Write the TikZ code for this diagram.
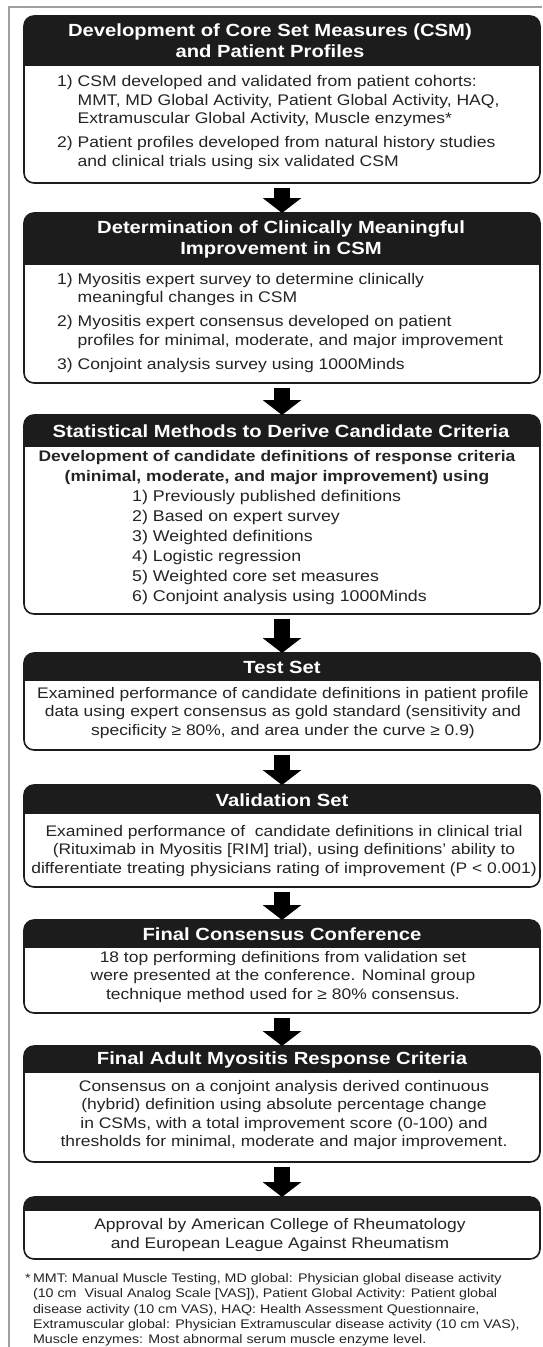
\documentclass[tikz,border=0pt]{standalone}
\usepackage{fontspec}
\setmainfont{Liberation Sans}
\usetikzlibrary{arrows.meta}

\definecolor{hdr}{HTML}{1C1C1C}
\definecolor{ink}{HTML}{242424}
\definecolor{framegray}{HTML}{A0A0A0}

\tikzset{
  stepbox/.style={draw=hdr, line width=1.6pt, rounded corners=10pt,
    minimum width=516pt, inner sep=0pt, outer sep=0pt},
  headtxt/.style={text=white, font=\bfseries\fontsize{17.6}{21}\selectfont,
    xscale=1.15, align=center, inner sep=0pt},
  bodytxt/.style={text=ink, font=\fontsize{15.3}{18.5}\selectfont,
    xscale=1.14, align=center, inner sep=0pt},
  listtxt/.style={text=ink, font=\fontsize{15.4}{18.5}\selectfont,
    xscale=1.14, anchor=west, align=left, inner sep=0pt},
  notetxt/.style={text=ink, font=\fontsize{12.5}{15.2}\selectfont,
    xscale=1.14, anchor=west, inner sep=0pt},
  flowarrow/.style={draw=black, line width=16pt, shorten <=5pt,
    -{Triangle[width=38pt,length=15pt]}},
}

% #1 name, #2 top, #3 bottom of the dark band, #4 bottom
\newcommand\drawstep[4]{%
  \node[stepbox, minimum height={#4-#2}] (#1) at (282,{(#2+#4)/2}) {};
  \begin{scope}
    \clip[rounded corners=10pt] (#1.north west) rectangle (#1.south east);
    \fill[hdr] (20,#2-2) rectangle (544,#3);
  \end{scope}
}

\begin{document}
\begin{tikzpicture}[x=1pt, y=-1pt]
  \useasboundingbox (0,0) rectangle (542,1347);
  \fill[white] (0,0) rectangle (542,1347);

  % outer frame (top and left edges)
  \draw[framegray, line width=1.5pt] (542,7) -- (9,7) -- (9,1347);

  % boxes
  \drawstep{s1}{16}{66}{183}
  \drawstep{s2}{213}{265}{383}
  \drawstep{s3}{415}{447}{614}
  \drawstep{s4}{653}{681}{750}
  \drawstep{s5}{785}{814}{887}
  \drawstep{s6}{920}{948}{1013}
  \drawstep{s7}{1046}{1073}{1162}
  \drawstep{s8}{1197}{1211}{1259}

  % step 1
  \node[headtxt] (h1) at (270,41) {Development of Core Set Measures (CSM)\\and Patient Profiles};
  \node[listtxt] (t1) at (57,123) {\begin{tabular}{@{}l@{\ }l@{}}
    1) & CSM developed and validated from patient cohorts:\\
       & MMT, MD Global Activity, Patient Global Activity, HAQ,\\
       & Extramuscular Global Activity, Muscle enzymes*\\[5.5pt]
    2) & Patient profiles developed from natural history studies\\
       & and clinical trials using six validated CSM
  \end{tabular}};

  % step 2
  \node[headtxt] (h2) at (281,239) {Determination of Clinically Meaningful\\Improvement in CSM};
  \node[listtxt] (t2) at (57,323) {\begin{tabular}{@{}l@{\ }l@{}}
    1) & Myositis expert survey to determine clinically\\
       & meaningful changes in CSM\\[5.5pt]
    2) & Myositis expert consensus developed on patient\\
       & profiles for minimal, moderate, and major improvement\\[5.5pt]
    3) & Conjoint analysis survey using 1000Minds
  \end{tabular}};

  % step 3
  \node[headtxt] (h3) at (281,431) {Statistical Methods to Derive Candidate Criteria};
  \node[bodytxt, font=\bfseries\fontsize{15.3}{20}\selectfont] (t3a) at (277,468)
    {Development of candidate definitions of response criteria\\(minimal, moderate, and major improvement) using};
  \node[listtxt, font=\fontsize{15.6}{20}\selectfont] (t3b) at (132,547)
    {1) Previously published definitions\\2) Based on expert survey\\3) Weighted definitions\\4) Logistic regression\\5) Weighted core set measures\\6) Conjoint analysis using 1000Minds};

  % step 4
  \node[headtxt] (h4) at (282,667) {Test Set};
  \node[bodytxt] (t4) at (283,713)
    {Examined performance of candidate definitions in patient profile\\data using expert consensus as gold standard (sensitivity and\\specificity ≥ 80\%, and area under the curve ≥ 0.9)};

  % step 5
  \node[headtxt] (h5) at (282,800) {Validation Set};
  \node[bodytxt] (t5) at (284,851)
    {Examined performance of~ candidate definitions in clinical trial\\(Rituximab in Myositis [RIM] trial), using definitions' ability to\\differentiate treating physicians rating of improvement (P < 0.001)};

  % step 6
  \node[headtxt] (h6) at (282,934) {Final Consensus Conference};
  \node[bodytxt] (t6) at (283,977)
    {18 top performing definitions from validation set\\were presented at the conference. Nominal group\\technique method used for ≥ 80\% consensus.};

  % step 7
  \node[headtxt] (h7) at (282,1060) {Final Adult Myositis Response Criteria};
  \node[bodytxt] (t7) at (284,1115)
    {Consensus on a conjoint analysis derived continuous\\(hybrid) definition using absolute percentage change\\in CSMs, with a total improvement score (0-100) and\\thresholds for minimal, moderate and major improvement.};

  % step 8
  \node[bodytxt] (t8) at (280,1235)
    {Approval by American College of Rheumatology\\and European League Against Rheumatism};

  % arrows between steps
  \draw[flowarrow] (s1.south) -- (s2.north);
  \draw[flowarrow] (s2.south) -- (s3.north);
  \draw[flowarrow] (s3.south) -- (s4.north);
  \draw[flowarrow] (s4.south) -- (s5.north);
  \draw[flowarrow] (s5.south) -- (s6.north);
  \draw[flowarrow] (s6.south) -- (s7.north);
  \draw[flowarrow] (s7.south) -- (s8.north);

  % footnote
  \node[notetxt] (fn) at (25,1310) {\begin{tabular}{@{}l@{\hspace{2pt}}l@{}}
    * & MMT: Manual Muscle Testing, MD global: Physician global disease activity\\
      & (10 cm~ Visual Analog Scale [VAS]), Patient Global Activity: Patient global\\
      & disease activity (10 cm VAS), HAQ: Health Assessment Questionnaire,\\
      & Extramuscular global: Physician Extramuscular disease activity (10 cm VAS),\\
      & Muscle enzymes: Most abnormal serum muscle enzyme level.
  \end{tabular}};
\end{tikzpicture}
\end{document}
